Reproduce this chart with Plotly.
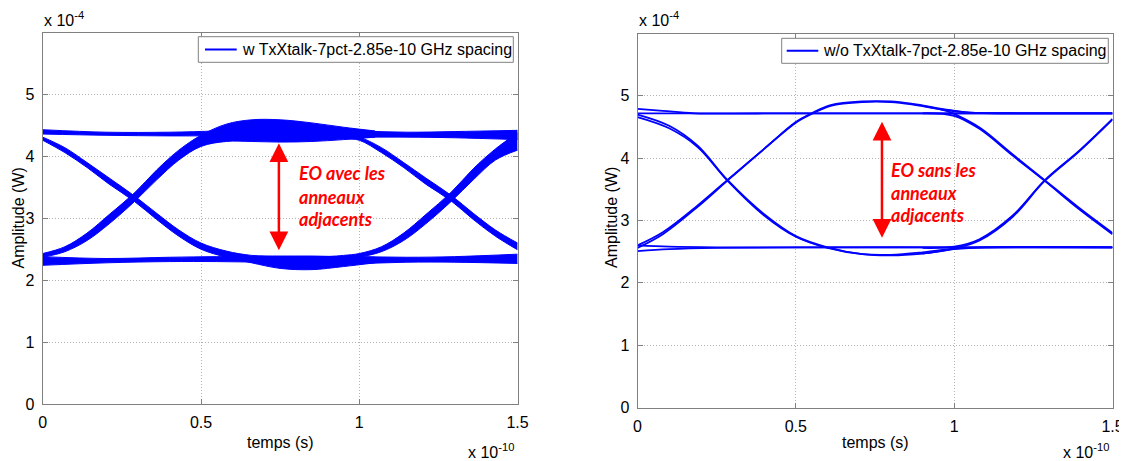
import plotly.graph_objects as go

# ---------------- data (x in 1e-10 s, y in 1e-4 W) ----------------
# Left panel: with adjacent rings (thick bands: upper / lower envelopes)
bandA_x = [0, 0.2, 0.4, 0.55, 0.7, 0.85, 1.0, 1.15, 1.3, 1.5]
bandA_up = [4.43, 4.39, 4.39, 4.41, 4.44, 4.44, 4.41, 4.39, 4.40, 4.42]
bandA_lo = [4.36, 4.34, 4.33, 4.33, 4.32, 4.31, 4.31, 4.31, 4.30, 4.27]

bandB_x = [0, 0.07, 0.14, 0.21, 0.29, 0.36, 0.43, 0.5, 0.58, 0.66, 0.75, 0.85, 0.95, 1.05]
bandB_up = [2.43, 2.54, 2.76, 3.06, 3.41, 3.78, 4.10, 4.34, 4.52, 4.59, 4.59, 4.54, 4.47, 4.41]
bandB_lo = [2.37, 2.46, 2.64, 2.91, 3.27, 3.62, 3.94, 4.16, 4.24, 4.24, 4.23, 4.24, 4.27, 4.31]

bandC_x = [0, 0.07, 0.14, 0.21, 0.29, 0.36, 0.43, 0.5, 0.58, 0.66, 0.75, 0.85, 0.95, 1.05]
bandC_up = [4.31, 4.14, 3.90, 3.65, 3.36, 3.08, 2.81, 2.60, 2.47, 2.40, 2.39, 2.39, 2.38, 2.37]
bandC_lo = [4.26, 4.06, 3.82, 3.55, 3.27, 2.98, 2.71, 2.50, 2.37, 2.28, 2.19, 2.17, 2.22, 2.28]

bandD_x = [0, 0.2, 0.4, 0.55, 0.7, 0.85, 1.0, 1.15, 1.3, 1.5]
bandD_up = [2.38, 2.35, 2.37, 2.38, 2.38, 2.38, 2.38, 2.37, 2.38, 2.42]
bandD_lo = [2.24, 2.28, 2.30, 2.30, 2.29, 2.28, 2.27, 2.29, 2.29, 2.27]

bandE_x = [0.9, 0.95, 1.0, 1.07, 1.14, 1.21, 1.29, 1.36, 1.43, 1.5]
bandE_up = [4.37, 4.35, 4.31, 4.14, 3.90, 3.65, 3.37, 3.08, 2.81, 2.60]
bandE_lo = [4.31, 4.29, 4.26, 4.06, 3.82, 3.55, 3.28, 2.98, 2.71, 2.49]

bandF_x = [0.9, 0.95, 1.0, 1.07, 1.14, 1.21, 1.29, 1.36, 1.43, 1.5]
bandF_up = [2.38, 2.40, 2.43, 2.54, 2.76, 3.06, 3.42, 3.80, 4.12, 4.38]
bandF_lo = [2.31, 2.33, 2.37, 2.46, 2.64, 2.91, 3.27, 3.62, 3.94, 4.10]

# Right panel: without adjacent rings (thin traces)
r_top_a_x = [0, 0.08, 0.18, 0.5, 1.0, 1.5]
r_top_a_y = [4.79, 4.76, 4.72, 4.72, 4.72, 4.72]
r_top_b_x = [0, 0.5, 1.0, 1.5]
r_top_b_y = [4.72, 4.72, 4.72, 4.72]
r_bot_a_x = [0, 0.1, 0.25, 0.5, 1.0, 1.5]
r_bot_a_y = [2.51, 2.54, 2.56, 2.57, 2.57, 2.57]
r_bot_b_x = [0, 0.1, 0.25, 1.5]
r_bot_b_y = [2.60, 2.58, 2.57, 2.57]

r_fall_x = [0, 0.1, 0.19, 0.284, 0.4, 0.5, 0.6, 0.71, 0.8, 0.9, 1.0, 1.1, 1.5]
r_fall_a_y = [4.70, 4.52, 4.20, 3.65, 3.10, 2.75, 2.57, 2.46, 2.44, 2.47, 2.54, 2.57, 2.57]
r_fall_b_y = [4.66, 4.48, 4.18, 3.64, 3.08, 2.74, 2.56, 2.46, 2.45, 2.49, 2.55, 2.57, 2.57]

r_rise_x = [0, 0.08, 0.19, 0.284, 0.4, 0.5, 0.55, 0.61, 0.71, 0.8, 0.87, 0.975, 1.05, 1.2, 1.5]
r_rise_a_y = [2.60, 2.81, 3.24, 3.65, 4.15, 4.58, 4.72, 4.85, 4.91, 4.91, 4.87, 4.78, 4.73, 4.72, 4.72]
r_rise_b_y = [2.56, 2.78, 3.22, 3.64, 4.15, 4.57, 4.71, 4.84, 4.90, 4.90, 4.86, 4.77, 4.73, 4.72, 4.72]

r_fall2_a_x = [0.9, 1.0, 1.08, 1.185, 1.285, 1.395, 1.5]
r_fall2_a_y = [4.72, 4.68, 4.47, 4.04, 3.64, 3.18, 2.78]
r_fall2_b_x = [0.9, 0.975, 1.0, 1.08, 1.185, 1.285, 1.395, 1.5]
r_fall2_b_y = [4.84, 4.76, 4.71, 4.49, 4.06, 3.65, 3.20, 2.80]
r_rise2_a_x = [0.9, 1.0, 1.08, 1.185, 1.285, 1.395, 1.5]
r_rise2_a_y = [2.56, 2.58, 2.70, 3.08, 3.64, 4.12, 4.63]
r_rise2_b_x = [0.9, 1.0, 1.08, 1.185, 1.285, 1.395, 1.5]
r_rise2_b_y = [2.47, 2.55, 2.68, 3.06, 3.63, 4.11, 4.62]

x_ticks = [0, 0.5, 1, 1.5]
x_ticklabels = ["0", "0.5", "1", "1.5"]
y_ticks = [0, 1, 2, 3, 4, 5]
y_ticklabels = ["0", "1", "2", "3", "4", "5"]

legend_left = "w TxXtalk-7pct-2.85e-10 GHz spacing"
legend_right = "w/o TxXtalk-7pct-2.85e-10 GHz spacing"

# arrows (eye opening) in data units
arrow_left = dict(x=0.746, y_top=4.21, y_bot=2.46)
arrow_right = dict(x=0.772, y_top=4.585, y_bot=2.70)
text_left = ["EO avec les", "anneaux", "adjacents"]
text_right = ["EO sans les", "anneaux", "adjacents"]

# ---------------- figure ----------------
# The page body has an 8px default margin: the figure starts 8px in, so it is
# sized to end at the window edge and every target pixel position is shifted.
OFF = 8
W, H = 1127 - OFF, 461 - OFF
BLUE = "#0000FF"
FONT = "Liberation Sans, Arial, Helvetica, sans-serif"
FS = 16


def px(v):
    return (v - OFF) / W


def py(v):
    return 1 - (v - OFF) / H


fig = go.Figure()


def band(x, lo, up, xa, ya):
    fig.add_trace(go.Scatter(x=x, y=lo, mode="lines", line=dict(color=BLUE, width=1, shape="spline"),
                             xaxis=xa, yaxis=ya, showlegend=False, hoverinfo="skip"))
    fig.add_trace(go.Scatter(x=x, y=up, mode="lines", line=dict(color=BLUE, width=1, shape="spline"),
                             fill="tonexty", fillcolor=BLUE,
                             xaxis=xa, yaxis=ya, showlegend=False, hoverinfo="skip"))


band(bandD_x, bandD_lo, bandD_up, "x", "y")
band(bandA_x, bandA_lo, bandA_up, "x", "y")
band(bandB_x, bandB_lo, bandB_up, "x", "y")
band(bandC_x, bandC_lo, bandC_up, "x", "y")
band(bandE_x, bandE_lo, bandE_up, "x", "y")
band(bandF_x, bandF_lo, bandF_up, "x", "y")


def line(x, y, xa, ya, w=1.8):
    fig.add_trace(go.Scatter(x=x, y=y, mode="lines", line=dict(color=BLUE, width=w, shape="spline"),
                             xaxis=xa, yaxis=ya, showlegend=False, hoverinfo="skip"))


line(r_top_a_x, r_top_a_y, "x2", "y2")
line(r_top_b_x, r_top_b_y, "x2", "y2")
line(r_bot_a_x, r_bot_a_y, "x2", "y2")
line(r_bot_b_x, r_bot_b_y, "x2", "y2")
line(r_fall_x, r_fall_a_y, "x2", "y2")
line(r_fall_x, r_fall_b_y, "x2", "y2")
line(r_rise_x, r_rise_a_y, "x2", "y2")
line(r_rise_x, r_rise_b_y, "x2", "y2")
line(r_fall2_a_x, r_fall2_a_y, "x2", "y2")
line(r_fall2_b_x, r_fall2_b_y, "x2", "y2")
line(r_rise2_a_x, r_rise2_a_y, "x2", "y2")
line(r_rise2_b_x, r_rise2_b_y, "x2", "y2")

# axes boxes (target pixel positions)
L = dict(x0=42.7, x1=517.6, y0=32.5, y1=404.0)
R = dict(x0=637.5, x1=1112.5, y0=33.5, y1=407.5)

axis_common = dict(showline=True, linecolor="#808080", linewidth=1, mirror="ticks",
                   ticks="inside", ticklen=5, tickcolor="#808080", automargin=False,
                   showgrid=True, gridcolor="#b4b4b4", griddash="1px,2px", gridwidth=1,
                   ticklabeloverflow="allow",
                   zeroline=False, tickfont=dict(family=FONT, size=FS, color="#000000"))

fig.update_layout(
    width=W, height=H,
    margin=dict(l=0, r=0, t=0, b=0, pad=0, autoexpand=False),
    paper_bgcolor="white", plot_bgcolor="white",
    showlegend=False,
    font=dict(family=FONT, size=FS, color="#000000"),
    xaxis=dict(domain=[px(L["x0"]), px(L["x1"])], range=[0, 1.5], anchor="y",
               tickvals=x_ticks, ticktext=x_ticklabels, ticklabelstandoff=4, **axis_common),
    yaxis=dict(domain=[py(L["y1"]), py(L["y0"])], range=[0, 6], anchor="x",
               tickvals=y_ticks, ticktext=y_ticklabels, ticklabelstandoff=4, **axis_common),
    xaxis2=dict(domain=[px(R["x0"]), px(R["x1"])], range=[0, 1.5], anchor="y2",
                tickvals=x_ticks, ticktext=x_ticklabels, ticklabelstandoff=4, **axis_common),
    yaxis2=dict(domain=[py(R["y1"]), py(R["y0"])], range=[0, 6], anchor="x2",
                tickvals=y_ticks, ticktext=y_ticklabels, ticklabelstandoff=4, **axis_common),
)

shapes = []
ann = []

# legend boxes (MATLAB style): frame, line sample, label
for name, bx0, bx1, by0, by1, lx0, lx1, tx in [
        (legend_left, 198.3, 513.3, 36.7, 62.3, 205.0, 236.7, 239.5),
        (legend_right, 781.7, 1108.3, 38.3, 63.3, 786.7, 818.3, 821.0)]:
    shapes.append(dict(type="rect", xref="paper", yref="paper", x0=px(bx0), x1=px(bx1),
                       y0=py(by1), y1=py(by0), line=dict(color="#808080", width=1),
                       fillcolor="white", layer="above"))
    ym = (by0 + by1) / 2
    shapes.append(dict(type="line", xref="paper", yref="paper", x0=px(lx0), x1=px(lx1),
                       y0=py(ym), y1=py(ym), line=dict(color=BLUE, width=2), layer="above"))
    ann.append(dict(x=px(tx), y=py(ym), xref="paper", yref="paper", text=name, showarrow=False,
                    xanchor="left", yanchor="middle", font=dict(family=FONT, size=FS, color="#000000")))

# arrows
for a, xr, yr in [(arrow_left, "x", "y"), (arrow_right, "x2", "y2")]:
    ann.append(dict(x=a["x"], y=a["y_top"], ax=a["x"], ay=a["y_bot"], xref=xr, yref=yr,
                    axref=xr, ayref=yr, showarrow=True, text="", arrowhead=2,
                    arrowside="end+start", arrowsize=1.5, arrowwidth=2.5, arrowcolor="#FF0000",
                    standoff=0, startstandoff=0))

# red annotation text
EO_FONT = dict(family="Lato, Open Sans, sans-serif", size=18, color="#FF0000", weight="bold", style="italic")
for lines_, x0, ys in [(text_left, 297.0, [173.3, 196.7, 218.8]), (text_right, 889.0, [170.0, 192.7, 215.0])]:
    for t, yv in zip(lines_, ys):
        ann.append(dict(x=px(x0), y=py(yv), xref="paper", yref="paper", text=t, showarrow=False,
                        xanchor="left", yanchor="middle", font=EO_FONT))

# axis titles and exponent labels
for cx, ex_top, ex_bot_r, ylab_x in [((L["x0"] + L["x1"]) / 2, L["x0"], L["x1"], 18.5),
                                     ((R["x0"] + R["x1"]) / 2, R["x0"], R["x1"], 612.0)]:
    ann.append(dict(x=px(cx), y=py(442), xref="paper", yref="paper", text="temps (s)",
                    showarrow=False, xanchor="center", yanchor="middle",
                    font=dict(family=FONT, size=FS)))
    ann.append(dict(x=px(ylab_x), y=py(218), xref="paper", yref="paper", text="Amplitude (W)",
                    showarrow=False, xanchor="center", yanchor="middle", textangle=-90,
                    font=dict(family=FONT, size=FS)))
    ann.append(dict(x=px(ex_top - 1), y=py(19), xref="paper", yref="paper",
                    text="x 10<sup>-4</sup>", showarrow=False, xanchor="left", yanchor="middle",
                    font=dict(family=FONT, size=FS)))
    ann.append(dict(x=px(ex_bot_r - 2), y=py(451), xref="paper", yref="paper",
                    text="x 10<sup>-10</sup>", showarrow=False, xanchor="right", yanchor="middle",
                    font=dict(family=FONT, size=FS)))

fig.update_layout(shapes=shapes, annotations=ann)

fig.write_html("out.html")
